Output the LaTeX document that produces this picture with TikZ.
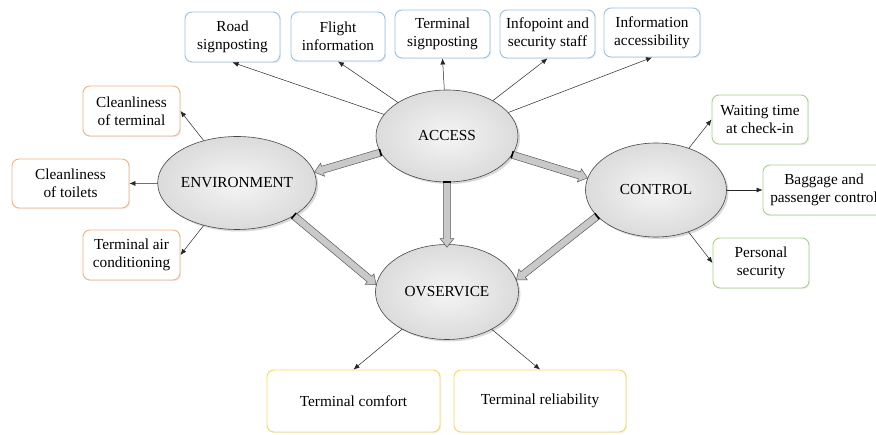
\documentclass[tikz,border=0pt]{standalone}
\usepackage{fontspec}
\setmainfont{Liberation Serif}
\usetikzlibrary{shapes.geometric,arrows.meta,calc,shadows}

\definecolor{bxblue}{RGB}{155,194,230}
\definecolor{bxorange}{RGB}{244,177,131}
\definecolor{bxgreen}{RGB}{169,209,142}
\definecolor{bxgold}{RGB}{255,214,95}

\tikzset{
  lbl/.style={font=\fontsize{15.3}{18}\selectfont, align=center, text=black},
  factor/.style={lbl, ellipse, inner sep=0pt, draw=black!72, line width=0.6pt,
    inner color=gray!8, outer color=gray!28,
    drop shadow={shadow xshift=2pt, shadow yshift=-2pt, opacity=0.3}},
  item/.style={lbl, rectangle, rounded corners=7pt, line width=0.9pt, fill=white,
    inner sep=1pt, drop shadow={shadow xshift=1.2pt, shadow yshift=-1.2pt, opacity=0.12}},
  accessitem/.style={item, draw=bxblue},
  envitem/.style={item, draw=bxorange},
  ctrlitem/.style={item, draw=bxgreen},
  ovitem/.style={item, draw=bxgold},
  link/.style={draw=black!85, line width=0.5pt, -{Latex[length=6pt,width=5pt]}},
  fatbody/.style={fill=gray!42, draw=black!65, line width=0.5pt, line join=miter},
  fatcap/.style={draw=black, line width=1.6pt},
}

% hollow block arrow from #1 to #2
\newcommand\fatarrow[2]{%
  \coordinate (fa-c) at ($(#2)!8.5pt!(#1)$);
  \filldraw[fatbody]
    ($(#1)!3.6pt!90:(#2)$) -- ($(fa-c)!3.6pt!-90:(#1)$) -- ($(fa-c)!6.8pt!-90:(#1)$)
    -- (#2) -- ($(fa-c)!6.8pt!90:(#1)$) -- ($(fa-c)!3.6pt!90:(#1)$)
    -- ($(#1)!3.6pt!-90:(#2)$) -- cycle;
  \draw[fatcap] ($(#1)!3.6pt!90:(#2)$) -- ($(#1)!3.6pt!-90:(#2)$);
}

\begin{document}
\begin{tikzpicture}[x=1pt, y=-1pt]
\useasboundingbox (0,0) rectangle (876,435);

% central factors
\node[factor, minimum width=142pt, minimum height=92pt] (accn) at (447,136) {ACCESS};
\node[factor, minimum width=142pt, minimum height=93pt] (envn) at (237,183) {ENVIRONMENT};
\node[factor, minimum width=141pt, minimum height=94pt] (ctrl) at (656,190) {CONTROL};
\node[factor, minimum width=143pt, minimum height=95pt] (ovs)  at (447,292) {OVSERVICE};

% access items
\node[accessitem, minimum width=95pt, minimum height=50pt] (road)   at (232.5,37) {Road\\signposting};
\node[accessitem, minimum width=94pt, minimum height=49pt] (flight) at (338,36.5) {Flight\\information};
\node[accessitem, minimum width=95pt, minimum height=48pt] (tsign)  at (442.5,34) {Terminal\\signposting};
\node[accessitem, minimum width=95pt, minimum height=48pt] (staff)  at (547.5,34) {Infopoint and\\security staff};
\node[accessitem, minimum width=96pt, minimum height=49pt] (iacc)   at (652,32.5) {Information\\accessibility};

% environment items
\node[envitem, minimum width=97pt,  minimum height=50pt] (cterm) at (131.5,111)  {Cleanliness\\of terminal};
\node[envitem, minimum width=117pt, minimum height=49pt] (ctoil) at (70.5,183.5) {Cleanliness\\of toilets};
\node[envitem, minimum width=97pt,  minimum height=50pt] (aircon) at (131.5,255) {Terminal air\\conditioning};

% control items
\node[ctrlitem, minimum width=96pt,  minimum height=49pt] (wait) at (760,119.5) {Waiting time\\at check-in};
\node[ctrlitem, minimum width=122pt, minimum height=50pt] (bag)  at (824,190)   {Baggage and\\passenger control};
\node[ctrlitem, minimum width=96pt,  minimum height=50pt] (pers) at (761,263)   {Personal\\security};

% overall service items
\node[ovitem, minimum width=173pt, minimum height=62pt] (comf) at (353.5,401) {Terminal comfort};
\node[ovitem, minimum width=172pt, minimum height=62pt] (rel)  at (540,401)   {Terminal reliability};

% thin links
\draw[link] (accn) -- (road.south);
\draw[link] (accn) -- (flight.south);
\draw[link] (accn) -- (tsign.south);
\draw[link] (accn) -- (staff.south);
\draw[link] (accn) -- (iacc.south);
\draw[link] (envn) -- (cterm.east);
\draw[link] (envn) -- (ctoil.east);
\draw[link] (envn) -- (aircon.east);
\draw[link] (ctrl) -- (wait.west);
\draw[link] (ctrl) -- (bag.west);
\draw[link] (ctrl) -- (pers.west);
\draw[link] (ovs) -- (comf.north);
\draw[link] (ovs) -- (rel.north);

% block arrows between factors
\coordinate (a2e-s) at (accn.194);
\coordinate (a2e-t) at (envn.8);
\coordinate (a2c-s) at (accn.344);
\coordinate (a2c-t) at (ctrl.170);
\coordinate (a2o-s) at (accn.270);
\coordinate (a2o-t) at ($(ovs.90)+(0,3)$);
\coordinate (e2o-s) at (envn.330);
\coordinate (e2o-t) at (ovs.174);
\coordinate (c2o-s) at (ctrl.204);
\coordinate (c2o-t) at (ovs.10);
\fatarrow{a2e-s}{a2e-t}
\fatarrow{a2c-s}{a2c-t}
\fatarrow{a2o-s}{a2o-t}
\fatarrow{e2o-s}{e2o-t}
\fatarrow{c2o-s}{c2o-t}
\end{tikzpicture}
\end{document}
